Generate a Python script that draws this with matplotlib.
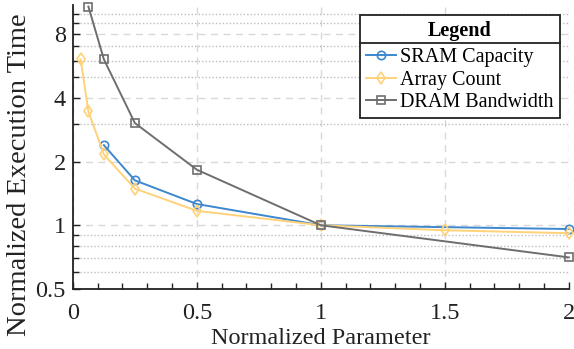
import matplotlib
matplotlib.use("Agg")
import matplotlib.pyplot as plt
from matplotlib.ticker import FixedLocator, NullFormatter, MultipleLocator
from matplotlib.lines import Line2D

plt.rcParams['font.family'] = ['Liberation Serif', 'DejaVu Serif']
plt.rcParams['mathtext.fontset'] = 'stix'

sram_x = [0.125, 0.25, 0.5, 1.0, 2.0]
sram_y = [2.39, 1.63, 1.26, 1.0, 0.96]
array_x = [0.03125, 0.0625, 0.125, 0.25, 0.5, 1.0, 1.5, 2.0]
array_y = [6.08, 3.45, 2.16, 1.49, 1.17, 1.0, 0.947, 0.917]
dram_x = [0.0625, 0.125, 0.25, 0.5, 1.0, 2.0]
dram_y = [10.8, 6.08, 3.04, 1.83, 1.0, 0.705]

labels = ["SRAM Capacity", "Array Count", "DRAM Bandwidth"]
colors = ["#3d87cf", "#ffd27a", "#6e6e6e"]
markers = ["o", "d", "s"]

yticks = [0.5, 1, 2, 4, 8]
ytick_labels = ["0.5", "1", "2", "4", "8"]
yminor = [0.6, 0.7, 0.8, 0.9, 3, 5, 6, 7, 9, 10]
xticks = [0, 0.5, 1, 1.5, 2]
xtick_labels = ["0", "0.5", "1", "1.5", "2"]

fig = plt.figure(figsize=(5.74, 3.49), dpi=100)
ax = fig.add_axes([0.127, 0.172, 0.864, 0.814])

for xs, ys, lab, c, m in zip([sram_x, array_x, dram_x], [sram_y, array_y, dram_y], labels, colors, markers):
    ax.plot(xs, ys, color=c, marker=m, markersize=6, markerfacecolor='none',
            markeredgewidth=1.2, linewidth=1.4, label=lab, clip_on=False, zorder=3)

ax.set_yscale('log', base=2)
ax.set_ylim(0.5, 11)
ax.set_xlim(0, 2)
ax.yaxis.set_major_locator(FixedLocator(yticks))
ax.set_yticklabels(ytick_labels)
ax.yaxis.set_minor_locator(FixedLocator(yminor))
ax.yaxis.set_minor_formatter(NullFormatter())
ax.xaxis.set_major_locator(FixedLocator(xticks))
ax.set_xticklabels(xtick_labels)
ax.xaxis.set_minor_locator(MultipleLocator(0.1))

ax.grid(which='major', linestyle=(0, (5, 4)), color='#d8d8d8', linewidth=1.0)
ax.grid(which='minor', axis='y', linestyle=(0, (1, 1.5)), color='#bdbdbd', linewidth=1.0)
ax.set_axisbelow(True)

for s in ['top', 'right']:
    ax.spines[s].set_visible(False)
for s in ['left', 'bottom']:
    ax.spines[s].set_linewidth(1.3)
    ax.spines[s].set_color('#222222')

ax.tick_params(which='both', direction='in', labelsize=17.5, colors='#222222')
ax.tick_params(which='major', length=5, width=1.0)
ax.tick_params(which='minor', length=4, width=1.0)
ax.tick_params(axis='x', pad=10)
ax.tick_params(axis='y', pad=5)

ax.set_xlabel("Normalized Parameter", fontsize=17.5, color='#222222', labelpad=3)
ax.set_ylabel("Normalized Execution Time", fontsize=20.5, color='#222222')
ax.yaxis.set_label_coords(-0.082, 0.403)

leg = ax.legend(title="Legend", loc='upper right', bbox_to_anchor=(0.982, 0.965),
                fontsize=14.5, title_fontproperties={'weight': 'bold', 'size': 14.5},
                frameon=True, fancybox=False, framealpha=1, edgecolor='#222222',
                borderpad=0.3, labelspacing=0.18, handlelength=1.5, handletextpad=0.2,
                borderaxespad=0)
leg.get_frame().set_linewidth(1.3)
leg._legend_box.sep = 5

fig.canvas.draw()
r = fig.canvas.get_renderer()
fb = leg.get_frame().get_window_extent(r)
tb = leg.get_title().get_window_extent(r)
ysep = tb.y0 - 2.5
inv = fig.transFigure.inverted()
(x0, y0) = inv.transform((fb.x0, ysep))
(x1, _) = inv.transform((fb.x1, ysep))
fig.add_artist(Line2D([x0, x1], [y0, y0], color='#222222', linewidth=1.3, transform=fig.transFigure, zorder=10))

fig.savefig("out.png", dpi=100)
